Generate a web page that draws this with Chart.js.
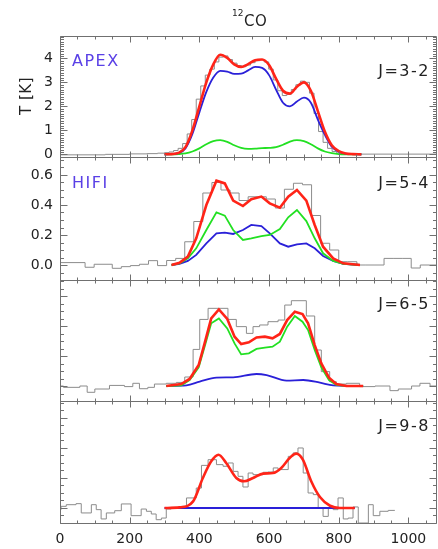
<!DOCTYPE html>
<html><head><meta charset="utf-8">
<script src="https://cdn.jsdelivr.net/npm/chart.js@4.4.1/dist/chart.umd.min.js"></script>
<style>
html,body{margin:0;padding:0;background:#fff;}
#wrap{position:relative;width:438px;height:549px;overflow:hidden;background:#fff;}
.panel{position:absolute;left:0;width:438px;}
.panel canvas{display:block;}
</style></head><body>
<div id="wrap">
<div class="panel" style="top:0px;height:160px"><canvas id="c1"></canvas></div>
<div class="panel" style="top:154px;height:129px"><canvas id="c2"></canvas></div>
<div class="panel" style="top:277px;height:127px"><canvas id="c3"></canvas></div>
<div class="panel" style="top:398px;height:151px"><canvas id="c4"></canvas></div>
</div>
<script>
// ---------- shared axis data ----------
const X_MIN = 0, X_MAX = 1082;
const xTickValues = [0, 200, 400, 600, 800, 1000];
const xTickLabels = ['0', '200', '400', '600', '800', '1000'];

// ---------- Panel 1 : APEX J=3-2 ----------
const p1Ticks = [0, 1, 2, 3, 4];
const p1TickLabels = ['0', '1', '2', '3', '4'];
const p1HistVel = [0,130,200,250,280,300,313,326,339,352,365,378,391,404,417,430,443,456,469,482,495,508,521,534,547,560,573,586,599,612,625,638,651,664,677,690,703,716,729,742,755,768,781,794,807,820,850,1082];
const p1HistT   = [-0.02,0.0,0.02,0.03,0.05,0.07,0.1,0.16,0.25,0.45,0.85,1.45,2.3,2.85,3.3,3.55,3.85,4.05,4.1,3.95,3.8,3.7,3.65,3.72,3.82,3.9,3.95,3.85,3.55,3.1,2.65,2.45,2.5,2.7,2.9,3.05,3.0,2.55,1.7,0.95,0.5,0.25,0.12,0.06,0.03,0.02,0.01,0.01];
const p1CurveVel = [300,320,340,360,380,400,420,440,460,480,500,520,540,560,580,600,620,640,660,680,700,720,740,760,780,800,820,840,865];
const p1Red   = [0,0.01,0.06,0.3,1.0,2.0,3.0,3.75,4.15,4.02,3.75,3.64,3.76,3.92,3.95,3.72,3.15,2.65,2.53,2.82,3.0,2.65,1.8,0.95,0.38,0.13,0.04,0.01,0];
const p1Blue  = [0,0.01,0.05,0.25,0.85,1.75,2.6,3.2,3.48,3.45,3.35,3.36,3.5,3.64,3.6,3.3,2.7,2.15,2.0,2.2,2.36,2.15,1.45,0.82,0.32,0.11,0.03,0.01,0];
const p1Green = [0,0,0.01,0.04,0.12,0.25,0.42,0.55,0.59,0.52,0.38,0.27,0.23,0.24,0.26,0.27,0.3,0.4,0.53,0.59,0.55,0.42,0.25,0.12,0.05,0.01,0,0,0];

// ---------- Panel 2 : HIFI J=5-4 ----------
const p2Ticks = [0, 0.2, 0.4, 0.6];
const p2TickLabels = ['0.0', '0.2', '0.4', '0.6'];
const p2HistVel = [0,72,98,150,176,202,228,254,280,306,332,358,384,410,436,462,488,514,540,566,592,618,644,670,696,722,748,774,800,826,852,878,904,930,956,982,1008,1034,1060,1082];
const p2HistT   = [0.016,-0.015,0.005,-0.022,-0.011,-0.004,0.005,0.029,-0.004,0.03,0.044,0.155,0.29,0.48,0.55,0.5,0.48,0.43,0.455,0.455,0.44,0.38,0.505,0.545,0.535,0.33,0.145,0.1,0.022,0.022,0.0,0.0,0.0,0.044,0.044,0.044,-0.02,0.0,0.0,0.0];
const p2CurveVel = [320,343,367,391,420,449,473,497,525,549,578,602,631,655,680,707,731,755,784,813,861];
const p2Red   = [0,0.015,0.056,0.178,0.4,0.562,0.544,0.429,0.393,0.438,0.456,0.411,0.382,0.456,0.5,0.429,0.267,0.122,0.044,0.011,0];
const p2Green = [0,0.011,0.044,0.111,0.233,0.351,0.329,0.233,0.167,0.178,0.193,0.2,0.24,0.318,0.367,0.293,0.178,0.078,0.027,0.007,0];
const p2Blue  = [0,0.007,0.027,0.067,0.144,0.211,0.216,0.207,0.233,0.267,0.26,0.211,0.144,0.122,0.138,0.144,0.111,0.06,0.027,0.007,0];

// ---------- Panel 3 : J=6-5 ----------
const p3HistVel = [0,10,57,78,100,142,185,209,228,252,271,305,334,358,382,401,425,454,482,506,535,554,573,597,626,645,664,707,731,750,774,793,822,860,904,947,971,1009,1033,1062,1082];
const p3HistT   = [0,-0.009,0,-0.042,-0.02,0.004,-0.004,0.018,-0.018,-0.009,0.013,0.018,0.024,0.06,0.244,0.444,0.518,0.518,0.444,0.396,0.351,0.396,0.407,0.429,0.44,0.54,0.569,0.467,0.24,0.096,0.029,0.013,0.018,-0.004,0,-0.031,-0.02,0,0.018,0,0];
const p3CurveVel = [305,348,372,398,415,434,456,480,501,520,542,564,588,610,631,652,674,696,712,731,750,772,793,822,870];
const p3Red   = [0,0.013,0.047,0.14,0.284,0.451,0.511,0.447,0.329,0.28,0.291,0.324,0.329,0.318,0.347,0.44,0.496,0.48,0.418,0.273,0.151,0.056,0.013,0,0];
const p3Green = [0,0.004,0.04,0.124,0.262,0.418,0.451,0.384,0.284,0.211,0.218,0.247,0.256,0.262,0.296,0.396,0.467,0.429,0.373,0.24,0.124,0.04,0.007,0,0];
const p3BlueVel = [305,363,401,449,497,564,593,650,698,746,784,870];
const p3Blue    = [0,0.004,0.029,0.056,0.058,0.08,0.073,0.036,0.04,0.022,0.004,0];

// ---------- Panel 4 : J=9-8 ----------
const p4HistVel = [0,3,18,46,61,90,104,118,133,157,176,204,233,248,262,276,291,305,319,348,363,391,406,425,449,468,482,497,511,525,540,554,583,597,612,626,640,655,669,683,698,712,727,741,755,770,784,798,813,827,841,856,885,899,918,942,961];
const p4HistT   = [-0.011,0.011,0.022,0.029,-0.033,0.022,-0.011,-0.073,-0.033,-0.018,0.027,-0.051,-0.007,-0.022,-0.04,-0.078,-0.067,-0.007,0.004,0.011,0.067,0.133,0.284,0.322,0.289,0.278,0.3,0.244,0.211,0.14,0.233,0.222,0.238,0.24,0.267,0.256,0.256,0.344,0.367,0.4,0.233,0.1,0.089,0.0,-0.056,0.0,-0.011,0.067,-0.073,-0.067,0.007,-0.1,0.022,-0.051,-0.022,-0.016,-0.016];
const p4CurveVel = [300,343,382,410,434,455,477,506,528,554,583,611,635,659,678,697,721,746,775,803,846];
const p4Red      = [0,0.004,0.044,0.2,0.311,0.355,0.3,0.2,0.178,0.2,0.229,0.233,0.267,0.333,0.362,0.322,0.178,0.073,0.015,0,0];
const p4BlueVel  = [300, 846];
const p4Blue     = [0, 0];

// ---------- styles ----------
const FAMILY = '"DejaVu Sans", "Liberation Sans", sans-serif';
const RED = '#ff2418', BLUE = '#2a20d8', GREEN = '#22e022', GRAY = '#8c8c8c';
const FRAME = '#707070', TEXT = '#222222', LABEL_BLUE = '#5a40e6';

function ds(xs, ys, color, width, extra) {
  return Object.assign({
    data: xs.map((x, i) => ({ x: x, y: ys[i] })),
    borderColor: color, borderWidth: width, pointRadius: 0, fill: false, tension: 0
  }, extra || {});
}

function framePlugin(o) {
  return {
    id: 'frameTicks',
    afterDraw(chart) {
      const { ctx, chartArea: a } = chart;
      const xs = chart.scales.x, ys = chart.scales.y;
      const L = Math.round(a.left) + 0.5, R = Math.round(a.right) - 0.5;
      const T = Math.round(a.top) + 0.5, B = Math.round(a.bottom) + 0.5;
      ctx.save();
      ctx.strokeStyle = FRAME; ctx.lineWidth = 1;
      ctx.beginPath();
      ctx.rect(L, T, R - L, B - T);
      for (let v = 0; v <= X_MAX; v += 50) {
        const px = Math.round(xs.getPixelForValue(v)) + 0.5;
        const len = (v % 200 === 0) ? 6 : 3;
        ctx.moveTo(px, B); ctx.lineTo(px, B - len);
        ctx.moveTo(px, T); ctx.lineTo(px, T + len);
      }
      const k0 = Math.ceil(o.yMin / o.yMinor - 1e-9), k1 = Math.floor(o.yMax / o.yMinor + 1e-9);
      const ratio = Math.round(o.yMajor / o.yMinor);
      for (let k = k0; k <= k1; k++) {
        const py = Math.round(ys.getPixelForValue(k * o.yMinor)) + 0.5;
        const len = (k % ratio === 0) ? 7 : 3.5;
        ctx.moveTo(L, py); ctx.lineTo(L + len, py);
        ctx.moveTo(R, py); ctx.lineTo(R - len, py);
      }
      ctx.stroke();
      ctx.restore();
    }
  };
}

function textPlugin(texts) {
  return {
    id: 'panelTexts',
    afterDraw(chart) {
      const ctx = chart.ctx;
      ctx.save();
      texts.forEach(t => {
        ctx.save();
        ctx.font = t.font;
        ctx.fillStyle = t.color || TEXT;
        ctx.textAlign = t.align || 'left';
        ctx.textBaseline = 'middle';
        if ('letterSpacing' in ctx) ctx.letterSpacing = (t.ls || 0) + 'px';
        ctx.translate(t.x, t.y);
        if (t.rot) ctx.rotate(t.rot);
        ctx.fillText(t.t, 0, 0);
        ctx.restore();
      });
      ctx.restore();
    }
  };
}

function noPad(s) { s.paddingTop = 0; s.paddingBottom = 0; s.paddingLeft = 0; s.paddingRight = 0; }

function makePanel(id, o) {
  return new Chart(document.getElementById(id), {
    type: 'line',
    data: { datasets: o.datasets },
    options: {
      responsive: true, maintainAspectRatio: false, animation: false, events: [],
      devicePixelRatio: 1,
      layout: { padding: o.padding },
      plugins: { legend: { display: false }, tooltip: { enabled: false }, title: { display: false } },
      scales: {
        x: {
          type: 'linear', min: X_MIN, max: X_MAX, display: o.showX,
          grid: { display: false, drawTicks: false }, border: { display: false },
          afterBuildTicks: s => { s.ticks = xTickValues.map(v => ({ value: v })); },
          ticks: {
            autoSkip: false, maxRotation: 0, padding: 8, color: TEXT,
            font: { family: FAMILY, size: 14 },
            callback: (v, i) => xTickLabels[i]
          },
          afterFit: s => { noPad(s); if (o.showX) s.height = 26; }
        },
        y: {
          type: 'linear', min: o.yMin, max: o.yMax, display: true,
          grid: { display: false, drawTicks: false }, border: { display: false },
          afterBuildTicks: s => { s.ticks = (o.yTicks || []).map(v => ({ value: v })); },
          ticks: {
            display: !!o.yLabels, autoSkip: false, padding: 7, color: TEXT,
            font: { family: FAMILY, size: 14 },
            callback: (v, i) => (o.yLabels ? o.yLabels[i] : '')
          },
          afterFit: s => { noPad(s); s.width = 60; }
        }
      }
    },
    plugins: [framePlugin(o), textPlugin(o.texts || [])]
  });
}

const smooth = { cubicInterpolationMode: 'monotone' };
const stepped = { stepped: true };
const fLabel = '16px ' + FAMILY;

makePanel('c1', {
  padding: { top: 36, bottom: 3, left: 0, right: 1 }, showX: false,
  yMin: -0.11, yMax: 4.93, yTicks: p1Ticks, yLabels: p1TickLabels, yMajor: 1, yMinor: 0.1,
  datasets: [
    ds(p1CurveVel, p1Red, RED, 2.6, smooth),
    ds(p1CurveVel, p1Blue, BLUE, 1.8, smooth),
    ds(p1CurveVel, p1Green, GREEN, 1.8, smooth),
    ds(p1HistVel, p1HistT, GRAY, 1, stepped)
  ],
  texts: [
    { t: '12', x: 232, y: 13.5, font: '9px ' + FAMILY },
    { t: 'CO', x: 244, y: 22.5, font: '15px ' + FAMILY, ls: 0.5 },
    { t: 'T [K]', x: 27, y: 96, font: '15px ' + FAMILY, rot: -Math.PI / 2, align: 'center', ls: 0.5 },
    { t: 'APEX', x: 72, y: 62, font: fLabel, color: LABEL_BLUE, ls: 1.5 },
    { t: 'J=3-2', x: 430, y: 72, font: fLabel, align: 'right', ls: 1.5 }
  ]
});

makePanel('c2', {
  padding: { top: 3, bottom: 3, left: 0, right: 1 }, showX: false,
  yMin: -0.1, yMax: 0.72, yTicks: p2Ticks, yLabels: p2TickLabels, yMajor: 0.2, yMinor: 0.05,
  datasets: [
    ds(p2CurveVel, p2Red, RED, 2.6),
    ds(p2CurveVel, p2Green, GREEN, 1.8),
    ds(p2CurveVel, p2Blue, BLUE, 1.8),
    ds(p2HistVel, p2HistT, GRAY, 1, stepped)
  ],
  texts: [
    { t: 'HIFI', x: 72, y: 29.5, font: fLabel, color: LABEL_BLUE, ls: 1.5 },
    { t: 'J=5-4', x: 430, y: 29.5, font: fLabel, align: 'right', ls: 1.5 }
  ]
});

makePanel('c3', {
  padding: { top: 3, bottom: 3, left: 0, right: 1 }, showX: false,
  yMin: -0.1, yMax: 0.707, yTicks: [], yLabels: null, yMajor: 0.2, yMinor: 0.05,
  datasets: [
    ds(p3CurveVel, p3Red, RED, 2.6),
    ds(p3CurveVel, p3Green, GREEN, 1.8),
    ds(p3BlueVel, p3Blue, BLUE, 1.8, smooth),
    ds(p3HistVel, p3HistT, GRAY, 1, stepped)
  ],
  texts: [
    { t: 'J=6-5', x: 430, y: 28, font: fLabel, align: 'right', ls: 1.5 }
  ]
});

makePanel('c4', {
  padding: { top: 3, bottom: 0, left: 0, right: 1 }, showX: true,
  yMin: -0.1, yMax: 0.713, yTicks: [], yLabels: null, yMajor: 0.2, yMinor: 0.05,
  datasets: [
    ds(p4CurveVel, p4Red, RED, 2.6, smooth),
    ds(p4BlueVel, p4Blue, BLUE, 1.8),
    ds(p4HistVel, p4HistT, GRAY, 1, stepped)
  ],
  texts: [
    { t: 'J=9-8', x: 430, y: 28.7, font: fLabel, align: 'right', ls: 1.5 }
  ]
});
</script>
</body></html>
